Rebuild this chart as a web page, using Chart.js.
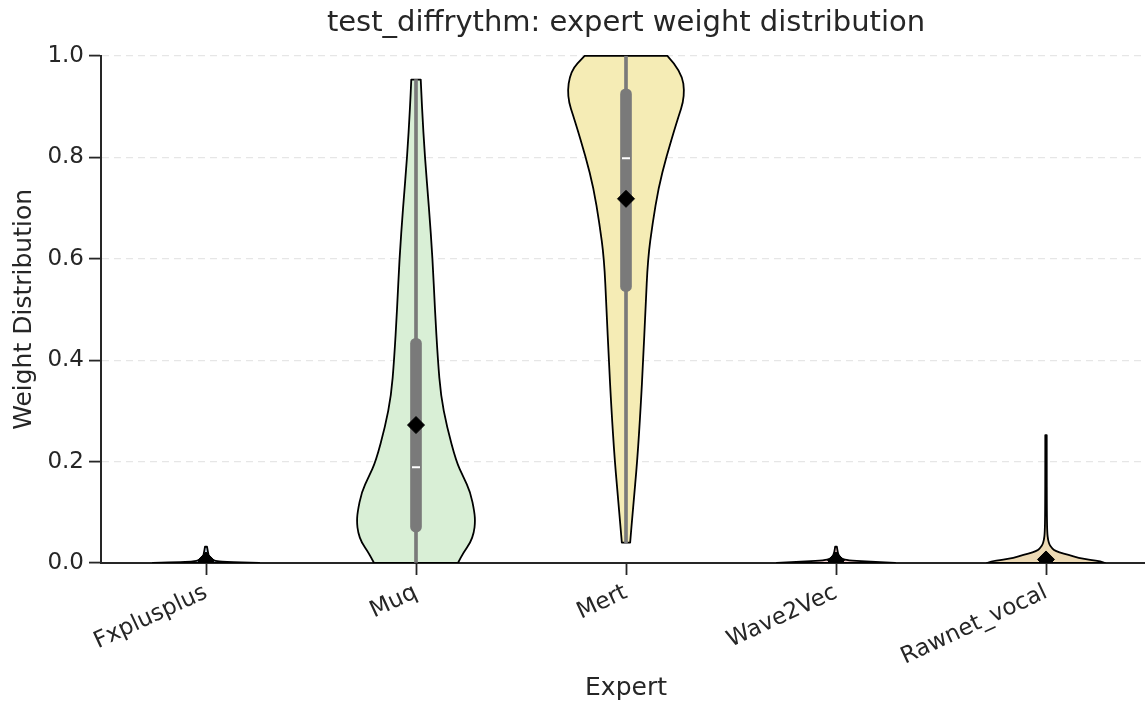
<!DOCTYPE html>
<html>
<head>
<meta charset="utf-8">
<script src="https://cdn.jsdelivr.net/npm/chart.js@4/dist/chart.umd.min.js"></script>
<style>
  html, body { margin: 0; background: #fff; overflow: hidden; }
  canvas { display: block; }
</style>
</head>
<body>
<canvas id="myChart" width="1151" height="706"></canvas>
<script>
'use strict';
// categories and summary values
let experts = ['Fxplusplus', 'Muq', 'Mert', 'Wave2Vec', 'Rawnet_vocal'];
let q1 = [0.0, 0.061, 0.535, 0.0, 0.0];
let q3 = [0.002, 0.443, 0.935, 0.002, 0.003];
let medians = [0.001, 0.189, 0.798, 0.001, 0.001];
let means = [0.005, 0.272, 0.718, 0.005, 0.007];
let whiskerLow = [0.0, 0.0, 0.04, 0.0, 0.0];
let whiskerHigh = [0.004, 0.953, 1.0, 0.004, 0.006];
let yTicks = [0, 0.2, 0.4, 0.6, 0.8, 1.0];

// violin outlines: weight levels and relative width (1 = widest)
let fxLevels = [0, 0.002, 0.004, 0.008, 0.012, 0.02, 0.032];
let fxWidths = [0.9, 0.3, 0.15, 0.09, 0.05, 0.035, 0.017];
let muqLevels = [0, 0.02, 0.04, 0.06, 0.08, 0.1, 0.14, 0.17, 0.2, 0.27, 0.33, 0.4, 0.5, 0.6, 0.7, 0.8, 0.9, 0.953];
let muqWidths = [0.71, 0.8, 0.92, 0.98, 1.0, 0.99, 0.92, 0.8, 0.68, 0.52, 0.42, 0.37, 0.32, 0.28, 0.22, 0.15, 0.1, 0.08];
let mertLevels = [0.04, 0.11, 0.2, 0.31, 0.4, 0.5, 0.6, 0.67, 0.74, 0.8, 0.87, 0.92, 0.97, 1.0];
let mertWidths = [0.07, 0.12, 0.19, 0.25, 0.29, 0.33, 0.37, 0.45, 0.55, 0.68, 0.86, 1.0, 0.94, 0.7];
let waveLevels = [0, 0.003, 0.005, 0.008, 0.012, 0.02, 0.032];
let waveWidths = [1.0, 0.5, 0.2, 0.1, 0.06, 0.03, 0.015];
let rawLevels = [0, 0.003, 0.006, 0.01, 0.016, 0.021, 0.026, 0.031, 0.036, 0.045, 0.06, 0.1, 0.2, 0.252];
let rawWidths = [1.0, 0.93, 0.75, 0.55, 0.38, 0.22, 0.13, 0.09, 0.06, 0.035, 0.02, 0.014, 0.012, 0.012];

let violinLevels = [fxLevels, muqLevels, mertLevels, waveLevels, rawLevels];
let violinWidths = [fxWidths, muqWidths, mertWidths, waveWidths, rawWidths];
let violinColors = ['#cfe0f0', '#d9efd6', '#f5ecb5', '#f3d0d0', '#ecd9b4'];

let textColor = '#262626';
let fontFamily = '"DejaVu Sans", sans-serif';

function smoothPath(ctx, pts) {
    ctx.lineTo(pts[0][0], pts[0][1]);
    for (let i = 1; i < pts.length - 1; i++) {
        let mx = (pts[i][0] + pts[i + 1][0]) / 2;
        let my = (pts[i][1] + pts[i + 1][1]) / 2;
        ctx.quadraticCurveTo(pts[i][0], pts[i][1], mx, my);
    }
    let last = pts[pts.length - 1];
    ctx.lineTo(last[0], last[1]);
}

let violinPlugin = {
    id: 'violins',
    beforeDatasetsDraw(chart) {
        let ctx = chart.ctx;
        let xs = chart.scales.x;
        let ys = chart.scales.y;
        let area = chart.chartArea;
        let band = xs.getPixelForValue(1) - xs.getPixelForValue(0);
        let maxHalf = 0.2815 * band;
        ctx.save();
        ctx.beginPath();
        ctx.rect(area.left, area.top - 2, area.right - area.left, area.bottom - area.top + 2);
        ctx.clip();
        for (let i = 0; i < experts.length; i++) {
            let cx = xs.getPixelForValue(i);
            let lv = violinLevels[i];
            let wd = violinWidths[i];
            let left = [];
            let right = [];
            for (let j = 0; j < lv.length; j++) {
                let py = ys.getPixelForValue(lv[j]);
                left.push([cx - wd[j] * maxHalf, py]);
                right.push([cx + wd[j] * maxHalf, py]);
            }
            right.reverse();
            ctx.beginPath();
            ctx.moveTo(left[0][0], left[0][1]);
            smoothPath(ctx, left);
            smoothPath(ctx, right);
            ctx.closePath();
            ctx.fillStyle = violinColors[i];
            ctx.fill();
            ctx.lineWidth = 1.8;
            ctx.strokeStyle = '#000';
            ctx.lineJoin = 'round';
            ctx.stroke();
        }
        ctx.restore();
    }
};

let ctx = document.getElementById('myChart').getContext('2d');
let myChart = new Chart(ctx, {
    type: 'bar',
    data: {
        labels: experts,
        datasets: [{
            type: 'line',
            label: 'mean',
            data: means,
            showLine: false,
            pointStyle: 'rectRot',
            pointRadius: 8.5,
            pointBackgroundColor: '#000',
            pointBorderColor: '#000',
            pointBorderWidth: 1,
            order: 0
        }, {
            type: 'line',
            label: 'median',
            data: medians,
            showLine: false,
            pointStyle: 'line',
            pointRadius: 4,
            pointBorderColor: '#fff',
            pointBorderWidth: 2,
            order: 1
        }, {
            label: 'box',
            data: experts.map((e, i) => [q1[i], q3[i]]),
            backgroundColor: '#7a7a7a',
            barThickness: 11,
            borderRadius: 5.5,
            borderSkipped: false,
            grouped: false,
            order: 2
        }, {
            label: 'whisker',
            data: experts.map((e, i) => [whiskerLow[i], whiskerHigh[i]]),
            backgroundColor: '#7a7a7a',
            barThickness: 3,
            grouped: false,
            order: 3
        }]
    },
    options: {
        responsive: false,
        animation: false,
        devicePixelRatio: 1,
        layout: { autoPadding: false },
        plugins: {
            legend: { display: false },
            tooltip: { enabled: false },
            title: {
                display: true,
                text: 'test_diffrythm: expert weight distribution',
                fullSize: false,
                color: textColor,
                font: { family: fontFamily, size: 29, weight: 'normal' },
                padding: { top: 6, bottom: 15 }
            }
        },
        scales: {
            x: {
                afterFit: s => { s.height = 143; s.paddingLeft = 0; s.paddingRight = 0; },
                grid: {
                    offset: false,
                    drawOnChartArea: false,
                    drawTicks: true,
                    tickLength: 12,
                    tickColor: '#262626',
                    tickWidth: 1.8
                },
                border: { color: '#262626', width: 2 },
                ticks: {
                    minRotation: 25,
                    maxRotation: 25,
                    color: textColor,
                    padding: 4,
                    font: { family: fontFamily, size: 23 }
                },
                title: {
                    display: true,
                    text: 'Expert',
                    color: textColor,
                    font: { family: fontFamily, size: 25 },
                    padding: { top: 0, bottom: 3 }
                }
            },
            y: {
                min: 0,
                max: 1,
                afterFit: s => { s.width = 101; s.paddingTop = 0; s.paddingBottom = 0; },
                afterBuildTicks: s => { s.ticks = yTicks.map(v => ({ value: v })); },
                grid: {
                    color: c => (c.tick && c.tick.value === 0) ? 'rgba(0,0,0,0)' : '#e6e6e6',
                    lineWidth: 1.2,
                    drawTicks: true,
                    tickLength: 12,
                    tickColor: '#262626',
                    tickWidth: 1.8,
                    tickBorderDash: []
                },
                border: { color: '#262626', width: 2, dash: [7, 5] },
                ticks: {
                    color: textColor,
                    padding: 5,
                    font: { family: fontFamily, size: 23 },
                    callback: v => v.toFixed(1)
                },
                title: {
                    display: true,
                    text: 'Weight Distribution',
                    color: textColor,
                    font: { family: fontFamily, size: 25 },
                    padding: { top: 9, bottom: 0 }
                }
            }
        }
    },
    plugins: [violinPlugin]
});
</script>
</body>
</html>
